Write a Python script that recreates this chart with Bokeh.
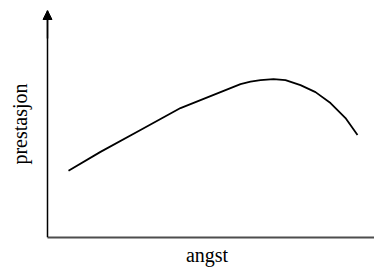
from bokeh.plotting import figure
from bokeh.models import Range1d, FixedTicker, Arrow, NormalHead, LinearAxis
from bokeh.embed import file_html
from bokeh.resources import INLINE

# curve (arbitrary units: angst -> prestasjon)
angst = [21, 53, 93, 133, 173, 193, 203, 213, 226, 238, 253, 268, 283, 298, 310]
prestasjon = [67, 86, 108, 130, 146, 154, 156.5, 158, 159, 158, 153, 146, 135, 120, 103]

x_label = "angst"
y_label = "prestasjon"

p = figure(width=374, height=268, output_backend="svg", toolbar_location=None,
           x_range=Range1d(-8, 327), y_range=Range1d(0, 228),
           min_border_left=39, min_border_right=0, min_border_top=10,
           min_border_bottom=30)
p.outline_line_color = None
p.xgrid.visible = False
p.ygrid.visible = False
p.background_fill_color = "white"
p.border_fill_color = "white"


def style(ax):
    ax.ticker = FixedTicker(ticks=[])
    ax.major_tick_line_color = None
    ax.minor_tick_line_color = None
    ax.major_label_text_font_size = "0px"
    ax.axis_label_text_font = "Liberation Serif"
    ax.axis_label_text_font_style = "normal"
    ax.axis_label_text_font_size = "20px"
    ax.axis_label_text_color = "black"
    ax.axis_label_text_line_height = 1.0


style(p.xaxis[0])
style(p.yaxis[0])
p.xaxis.axis_label = x_label
p.xaxis.axis_line_color = "#4d4d4d"
p.xaxis.axis_line_width = 2
p.xaxis.bounds = (0, 327)
p.xaxis.axis_label_standoff = 6

# y axis line sits at x = 0
p.yaxis.fixed_location = 0
p.yaxis.axis_line_color = "black"
p.yaxis.axis_line_width = 1.5

# label-only axis on the left
lab = LinearAxis(axis_line_color=None)
style(lab)
lab.axis_label = y_label
lab.axis_label_standoff = 9
p.add_layout(lab, "left")

p.line(angst, prestasjon, line_color="black", line_width=1.8)

p.add_layout(Arrow(end=NormalHead(size=9, fill_color="black", line_color="black"),
                   x_start=0, y_start=200, x_end=0, y_end=228,
                   line_color="black", line_width=1.5))

open("out.html", "w").write(file_html(p, INLINE))
